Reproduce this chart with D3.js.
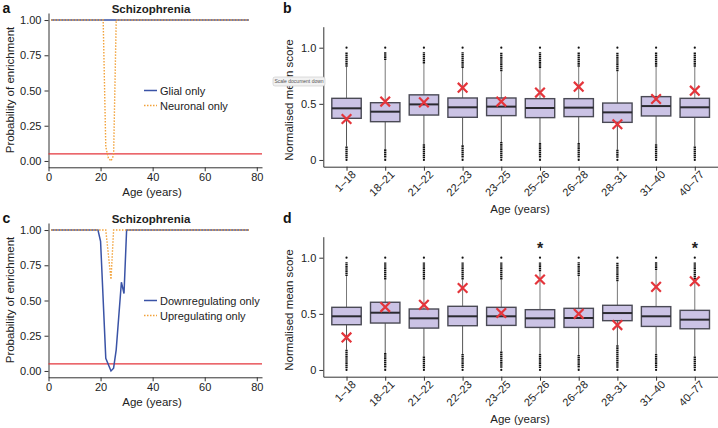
<!DOCTYPE html>
<html>
<head>
<meta charset="utf-8">
<script src="https://cdn.jsdelivr.net/npm/d3@7"></script>
<style>
  body { margin: 0; background: #fff; }
  svg { display: block; font-family: "Liberation Sans", Arial, sans-serif; }
  .axis path, .axis line { stroke: #333; }
  .axis text { fill: #222; font-size: 11px; }
</style>
</head>
<body>
<div id="chart"></div>
<script>
// ---- data ----
// line panels (a, c): probability of enrichment by age
var agesA = [1, 20, 21, 22, 23, 24, 25, 26, 27, 77];
var glialA = [1, 1, 1, 1, 1, 1, 1, 1, 1, 1];
var neuronalA = [1, 1, 1, 0.1, 0.02, 0, 0.04, 1, 1, 1];

var agesC = [1, 19, 20, 22, 24, 25, 26, 28, 29, 30, 77];
var downC = [1, 1, 0.92, 0.09, 0, 0.02, 0.15, 0.63, 0.55, 1, 1];
var upC = [1, 1, 1, 1, 0.65, 1, 1, 1, 1, 1, 1];

var threshold = 0.05;
var xTicksAge = [0, 20, 40, 60, 80];
var yTicksProb = [0, 0.25, 0.5, 0.75, 1];

// box panels (b, d)
var ageGroups = ["1–18", "18–21", "21–22", "22–23", "23–25", "25–26", "26–28", "28–31", "31–40", "40–77"];

var bQ1 = [0.371, 0.341, 0.40, 0.38, 0.395, 0.377, 0.386, 0.335, 0.392, 0.38];
var bMed = [0.46, 0.43, 0.495, 0.469, 0.475, 0.463, 0.466, 0.424, 0.48, 0.469];
var bQ3 = [0.549, 0.51, 0.58, 0.552, 0.552, 0.546, 0.546, 0.507, 0.564, 0.549];
var bWhiskLo = [0.12, 0.095, 0.14, 0.13, 0.16, 0.15, 0.15, 0.09, 0.14, 0.12];
var bWhiskHi = [0.83, 0.89, 0.86, 0.82, 0.79, 0.82, 0.83, 0.79, 0.83, 0.83];
var bObserved = [0.365, 0.52, 0.513, 0.644, 0.52, 0.60, 0.653, 0.318, 0.543, 0.617];
var bStars = ["", "", "", "", "", "", "", "", "", ""];

var dQ1 = [0.403, 0.418, 0.373, 0.394, 0.397, 0.379, 0.379, 0.439, 0.388, 0.367];
var dMed = [0.478, 0.51, 0.46, 0.478, 0.478, 0.46, 0.463, 0.507, 0.478, 0.448];
var dQ3 = [0.558, 0.603, 0.543, 0.567, 0.558, 0.537, 0.549, 0.576, 0.564, 0.531];
var dWhiskLo = [0.18, 0.15, 0.12, 0.143, 0.164, 0.143, 0.134, 0.22, 0.143, 0.12];
var dWhiskHi = [0.836, 0.806, 0.806, 0.806, 0.806, 0.88, 0.836, 0.79, 0.89, 0.806];
var dObserved = [0.29, 0.56, 0.58, 0.73, 0.507, 0.806, 0.50, 0.40, 0.74, 0.79];
var dStars = ["", "", "", "", "", "*", "", "", "", "*"];

var yTicksScore = [0, 0.5, 1];

// ---- drawing ----
var svg = d3.select("#chart").append("svg")
  .attr("width", 718)
  .attr("height", 428);

var blue = "#3a53a6", orange = "#f2a23a", red = "#e4353b";

function linePanel(offY, letter, ages, s1, s2, lab1, lab2) {
  var g = svg.append("g").attr("transform", "translate(0," + offY + ")");

  var x = d3.scaleLinear().domain([0, 82]).range([48.5, 262]);
  var y = d3.scaleLinear().domain([-0.045, 1.05]).range([167.3, 13]);

  g.append("g").attr("class", "axis")
    .attr("transform", "translate(48.5,0)")
    .call(d3.axisLeft(y).tickValues(yTicksProb).tickFormat(d3.format(".2f")).tickSize(4).tickSizeOuter(0).tickPadding(3));

  g.append("g").attr("class", "axis")
    .attr("transform", "translate(0,167.3)")
    .call(d3.axisBottom(x).tickValues(xTicksAge).tickSize(4).tickSizeOuter(0).tickPadding(2));

  // significance threshold
  g.append("line")
    .attr("x1", x(0)).attr("x2", x(82))
    .attr("y1", y(threshold)).attr("y2", y(threshold))
    .attr("stroke", red).attr("stroke-width", 1.3);

  var line = d3.line().x(function(d) { return x(d[0]); }).y(function(d) { return y(d[1]); });

  g.append("path")
    .datum(ages.map(function(a, i) { return [a, s1[i]]; }))
    .attr("d", line).attr("fill", "none")
    .attr("stroke", blue).attr("stroke-width", 1.5);

  g.append("path")
    .datum(ages.map(function(a, i) { return [a, s2[i]]; }))
    .attr("d", line).attr("fill", "none")
    .attr("stroke", orange).attr("stroke-width", 1.4)
    .attr("stroke-dasharray", "1.5,1.5");

  // legend
  g.append("line").attr("x1", 144).attr("x2", 157).attr("y1", 90.5).attr("y2", 90.5)
    .attr("stroke", blue).attr("stroke-width", 1.5);
  g.append("text").attr("x", 160).attr("y", 94.5).attr("font-size", 11).attr("fill", "#222").text(lab1);
  g.append("line").attr("x1", 144).attr("x2", 157).attr("y1", 105.5).attr("y2", 105.5)
    .attr("stroke", orange).attr("stroke-width", 1.4).attr("stroke-dasharray", "1.5,1.5");
  g.append("text").attr("x", 160).attr("y", 109.5).attr("font-size", 11).attr("fill", "#222").text(lab2);

  g.append("text").attr("x", 151).attr("y", 12.5).attr("text-anchor", "middle")
    .attr("font-size", 11.5).attr("font-weight", "bold").attr("fill", "#222").text("Schizophrenia");

  g.append("text").attr("x", 152).attr("y", 196).attr("text-anchor", "middle")
    .attr("font-size", 11.5).attr("fill", "#222").text("Age (years)");

  g.append("text").attr("transform", "translate(13.5,90) rotate(-90)")
    .attr("text-anchor", "middle").attr("font-size", 11.5).attr("fill", "#222")
    .text("Probability of enrichment");

  g.append("text").attr("x", 2.5).attr("y", 12.5).attr("font-size", 14)
    .attr("font-weight", "bold").attr("fill", "#111").text(letter);
}

function boxPanel(offY, letter, q1, med, q3, wLo, wHi, obs, stars) {
  var g = svg.append("g").attr("transform", "translate(0," + offY + ")");

  var x = d3.scalePoint().domain(ageGroups).range([323.3, 718]).padding(0.6);
  var y = d3.scaleLinear().domain([-0.06, 1.187]).range([166.7, 26.7]);
  var bw = x.step() * 0.76;

  g.append("g").attr("class", "axis")
    .attr("transform", "translate(323.3,0)")
    .call(d3.axisLeft(y).tickValues(yTicksScore).tickFormat(function(d) { return d === 0 ? "0" : d3.format(".1f")(d); })
      .tickSize(4).tickSizeOuter(0).tickPadding(3));

  var xa = g.append("g").attr("class", "axis")
    .attr("transform", "translate(0,166.7)")
    .call(d3.axisBottom(x).tickSize(4).tickSizeOuter(0));
  xa.selectAll("text")
    .attr("text-anchor", "end")
    .attr("transform", "translate(4,3) rotate(-45)")
    .attr("dy", "0.35em").attr("y", 4).attr("x", 0)
    .attr("font-size", 11);

  var items = ageGroups.map(function(k, i) {
    return { k: k, q1: q1[i], med: med[i], q3: q3[i], lo: wLo[i], hi: wHi[i], obs: obs[i], star: stars[i] };
  });

  var grp = g.selectAll(".box").data(items).enter().append("g").attr("class", "box");

  // whiskers
  grp.append("line")
    .attr("x1", function(d) { return x(d.k); }).attr("x2", function(d) { return x(d.k); })
    .attr("y1", function(d) { return y(d.q3); }).attr("y2", function(d) { return y(d.hi); })
    .attr("stroke", "#777").attr("stroke-width", 1);
  grp.append("line")
    .attr("x1", function(d) { return x(d.k); }).attr("x2", function(d) { return x(d.k); })
    .attr("y1", function(d) { return y(d.q1); }).attr("y2", function(d) { return y(d.lo); })
    .attr("stroke", "#555").attr("stroke-width", 1);

  // outliers (dense columns of points)
  grp.append("line")
    .attr("x1", function(d) { return x(d.k); }).attr("x2", function(d) { return x(d.k); })
    .attr("y1", function(d) { return y(d.hi); }).attr("y2", y(0.96))
    .attr("stroke", "#111").attr("stroke-width", 2.3).attr("stroke-dasharray", "1.6,0.5");
  grp.append("circle")
    .attr("cx", function(d) { return x(d.k); }).attr("cy", y(1)).attr("r", 1.1).attr("fill", "#111");
  grp.append("line")
    .attr("x1", function(d) { return x(d.k); }).attr("x2", function(d) { return x(d.k); })
    .attr("y1", function(d) { return y(d.lo); }).attr("y2", y(0.015))
    .attr("stroke", "#111").attr("stroke-width", 2.3).attr("stroke-dasharray", "1.6,0.5");
  grp.append("circle")
    .attr("cx", function(d) { return x(d.k); }).attr("cy", y(0)).attr("r", 1.1).attr("fill", "#111");

  // boxes
  grp.append("rect")
    .attr("x", function(d) { return x(d.k) - bw / 2; })
    .attr("y", function(d) { return y(d.q3); })
    .attr("width", bw)
    .attr("height", function(d) { return y(d.q1) - y(d.q3); })
    .attr("fill", "#cbc3e5").attr("stroke", "#4a4a55").attr("stroke-width", 1.4);
  grp.append("line")
    .attr("x1", function(d) { return x(d.k) - bw / 2; }).attr("x2", function(d) { return x(d.k) + bw / 2; })
    .attr("y1", function(d) { return y(d.med); }).attr("y2", function(d) { return y(d.med); })
    .attr("stroke", "#2a2a30").attr("stroke-width", 2);

  // observed score
  var s = 4.8;
  grp.append("path")
    .attr("d", function(d) {
      var cx = x(d.k), cy = y(d.obs);
      return "M" + (cx - s) + "," + (cy - s) + "L" + (cx + s) + "," + (cy + s) +
             "M" + (cx - s) + "," + (cy + s) + "L" + (cx + s) + "," + (cy - s);
    })
    .attr("stroke", red).attr("stroke-width", 2.2).attr("fill", "none");

  grp.append("text")
    .attr("x", function(d) { return x(d.k); })
    .attr("y", y(1.03))
    .attr("text-anchor", "middle").attr("font-size", 16).attr("font-weight", "bold").attr("fill", "#222")
    .text(function(d) { return d.star; });

  g.append("text").attr("x", 520).attr("y", 213).attr("text-anchor", "middle")
    .attr("font-size", 11.5).attr("fill", "#222").text("Age (years)");

  g.append("text").attr("transform", "translate(292.5,100) rotate(-90)")
    .attr("text-anchor", "middle").attr("font-size", 11.5).attr("fill", "#222")
    .text("Normalised mean score");

  g.append("text").attr("x", 283).attr("y", 13).attr("font-size", 14)
    .attr("font-weight", "bold").attr("fill", "#111").text(letter);
}

linePanel(0, "a", agesA, glialA, neuronalA, "Glial only", "Neuronal only");
linePanel(210, "c", agesC, downC, upC, "Downregulating only", "Upregulating only");
boxPanel(0, "b", bQ1, bMed, bQ3, bWhiskLo, bWhiskHi, bObserved, bStars);
boxPanel(210, "d", dQ1, dMed, dQ3, dWhiskLo, dWhiskHi, dObserved, dStars);

// browser tooltip captured in the original figure
var tip = svg.append("g");
tip.append("rect").attr("x", 273).attr("y", 77).attr("width", 52).attr("height", 9).attr("rx", 2)
  .attr("fill", "#f2f2f2").attr("stroke", "#c8c8c8").attr("stroke-width", 0.6);
tip.append("text").attr("x", 299).attr("y", 83.3).attr("text-anchor", "middle")
  .attr("font-size", 5).attr("fill", "#555").text("Scale document down");
</script>
</body>
</html>
